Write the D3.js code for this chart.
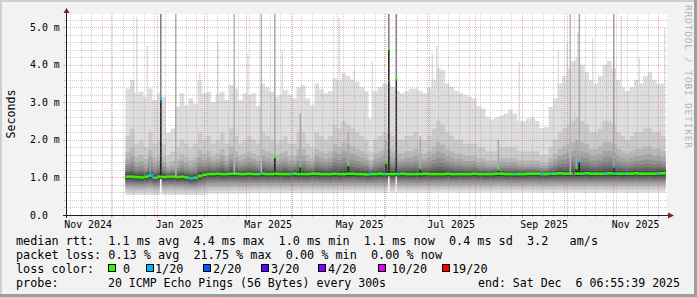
<!DOCTYPE html>
<html>
<head>
<meta charset="utf-8">
<script src="https://cdn.jsdelivr.net/npm/d3@7"></script>
<style>
  html, body { margin: 0; padding: 0; background: #f2f2f2; }
  svg { display: block; }
  text { font-family: "DejaVu Sans Mono", monospace; }
</style>
</head>
<body>
<div id="chart"></div>
<script>
// ---- data ----
const rangeStart = new Date(Date.UTC(2024, 10, 1, 6, 55, 39));
const rangeEnd = new Date(Date.UTC(2025, 11, 6, 6, 55, 39));
const firstBin = new Date(Date.UTC(2024, 11, 11));
const binDays = 3;

// max ping per 3-day bin (ms)
const maxRtt = [
  3.37, 3.59, 3.24, 3.28, 3.15, 3.37, 3.06, 3.24, 3.15, 2.18, 2.3, 2.88, 3.24, 2.92, 3.1, 2.97, 3.59, 3.24, 3.28, 3.0,
  3.24, 3.28, 3.06, 3.46, 3.37, 3.06, 3.24, 3.2, 3.24, 2.9, 3.5, 3.4, 3.28, 3.15, 3.2, 3.33, 3.2, 3.1, 3.4, 3.46,
  3.1, 2.92, 3.5, 3.35, 3.24, 3.3, 3.64, 3.6, 3.77, 3.7, 3.6, 3.55, 3.4, 3.3, 2.57, 3.3, 3.41, 3.5, 3.5, 3.41,
  3.3, 3.24, 3.3, 3.37, 3.37, 3.3, 3.24, 3.4, 3.6, 3.9, 3.85, 3.5, 3.41, 3.3, 3.24, 3.2, 3.15, 3.1, 2.9, 2.84,
  2.6, 2.55, 2.6, 2.64, 2.7, 2.81, 2.7, 2.51, 2.5, 2.57, 2.6, 2.5, 2.31, 2.35, 2.88, 3.1, 3.5, 3.7, 3.9, 4.1,
  4.2, 4.0, 3.8, 3.6, 3.5, 3.7, 4.0, 4.1, 3.9, 3.6, 3.4, 3.3, 3.4, 3.6, 3.5, 3.7, 3.8, 3.6, 3.5, 3.5
];
// 90th percentile ping per bin (ms)
const p90Rtt = [
  2.1, 2.3, 1.9, 2.0, 1.8, 2.2, 1.9, 2.0, 1.9, 1.6, 1.7, 1.8, 2.0, 1.9, 1.8, 1.9, 2.2, 2.0, 2.1, 1.9,
  2.0, 2.2, 1.9, 2.3, 2.1, 1.9, 2.0, 2.1, 2.0, 1.9, 2.2, 2.1, 2.0, 1.9, 2.0, 2.1, 1.9, 1.9, 2.2, 2.2,
  1.9, 1.8, 2.2, 2.1, 2.0, 2.1, 2.4, 2.3, 2.5, 2.4, 2.3, 2.2, 2.1, 2.0, 1.7, 2.0, 2.1, 2.2, 2.2, 2.1,
  2.0, 2.0, 2.1, 2.1, 2.2, 2.0, 2.0, 2.1, 2.3, 2.5, 2.4, 2.2, 2.1, 2.0, 2.0, 1.9, 1.9, 1.9, 1.8, 1.8,
  1.7, 1.7, 1.7, 1.8, 1.8, 1.8, 1.8, 1.7, 1.7, 1.7, 1.7, 1.7, 1.6, 1.6, 1.8, 2.0, 2.2, 2.3, 2.4, 2.5,
  2.6, 2.5, 2.4, 2.2, 2.2, 2.3, 2.5, 2.5, 2.4, 2.2, 2.1, 2.0, 2.1, 2.2, 2.2, 2.3, 2.3, 2.2, 2.2, 2.1
];
// median ping per bin (ms)
const medianRtt = [
  1.02, 1.02, 1.01, 1.0, 1.02, 1.05, 0.99, 1.02, 1.01, 1.02, 1.02, 1.01, 1.02, 1.0, 0.98, 0.99, 1.04, 1.07, 1.09, 1.09,
  1.1, 1.09, 1.09, 1.1, 1.1, 1.09, 1.09, 1.1, 1.09, 1.09, 1.1, 1.09, 1.09, 1.1, 1.09, 1.09, 1.09, 1.1, 1.09, 1.09,
  1.09, 1.1, 1.1, 1.09, 1.09, 1.09, 1.1, 1.09, 1.09, 1.1, 1.1, 1.09, 1.09, 1.08, 1.09, 1.09, 1.1, 1.09, 1.09, 1.09,
  1.09, 1.1, 1.09, 1.09, 1.09, 1.09, 1.1, 1.09, 1.09, 1.09, 1.09, 1.1, 1.09, 1.09, 1.09, 1.09, 1.09, 1.1, 1.09, 1.09,
  1.09, 1.09, 1.1, 1.1, 1.09, 1.09, 1.09, 1.09, 1.09, 1.1, 1.1, 1.1, 1.09, 1.09, 1.1, 1.1, 1.11, 1.1, 1.1, 1.1,
  1.1, 1.1, 1.11, 1.1, 1.1, 1.1, 1.1, 1.11, 1.1, 1.1, 1.1, 1.1, 1.1, 1.11, 1.1, 1.1, 1.1, 1.1, 1.11, 1.11
];
// min ping per month (ms)
const minMonths = ['2024-12', '2025-01', '2025-02', '2025-03', '2025-04', '2025-05', '2025-06',
  '2025-07', '2025-08', '2025-09', '2025-10', '2025-11', '2025-12'];
const minRtt = [0.53, 0.53, 0.57, 0.58, 0.58, 0.59, 0.59, 0.6, 0.6, 0.6, 0.6, 0.6, 0.6];

// single days with a very high max ping
const peakDates = ['2024-12-18', '2024-12-25', '2025-01-29', '2025-02-10', '2025-03-02', '2025-03-25',
  '2025-05-02', '2025-05-12', '2025-05-24', '2025-07-03', '2025-07-06', '2025-08-30', '2025-09-25',
  '2025-10-01', '2025-10-08', '2025-10-18', '2025-11-06', '2025-11-18', '2025-12-05'];
const peakValues = [5.27, 4.5, 3.8, 4.6, 4.3, 4.4, 5.24, 3.86, 4.1, 4.3, 4.5, 4.07, 4.4, 4.6, 4.87, 4.7, 5.3, 4.2, 4.97];

// days with a raised median or a wide spread
const specialDates = ['2024-12-27', '2025-01-03', '2025-01-13', '2025-02-21', '2025-03-11', '2025-03-20',
  '2025-04-06', '2025-05-08', '2025-06-02', '2025-06-04', '2025-06-09', '2025-06-25', '2025-08-16',
  '2025-10-03', '2025-10-07', '2025-10-09', '2025-11-01'];
const specialMedian = [1.12, 3.08, null, null, null, 1.55, 1.3, 1.33, 1.4, 4.43, 3.63, 1.25, 1.22, null, 1.25, 1.42, 1.28];
const specialSpread = [1.6, 5.4, 5.4, 5.4, 5.4, 5.4, 2.7, 2.2, 2.0, 5.4, 5.4, 2.1, 2.0, 5.4, 2.0, 5.4, 5.4];
const specialLoss = [1, 1, 0, 0, 0, 0, 0, 0, 0, 0, 0, 0, 0, 0, 0, 1, 1];

// days with packet loss (pings lost of 20)
const lossDates = ['2024-12-27', '2024-12-28', '2024-12-29', '2025-01-22', '2025-01-23', '2025-01-24',
  '2025-01-25', '2025-03-11', '2025-03-31', '2025-05-22', '2025-06-01', '2025-06-11', '2025-08-27',
  '2025-09-14', '2025-09-20', '2025-10-05', '2025-10-12', '2025-10-26', '2025-11-02', '2025-11-08', '2025-11-30'];
const lossCounts = [1, 1, 1, 1, 1, 1, 1, 1, 1, 1, 1, 1, 1, 1, 1, 10, 1, 1, 1, 1, 1];

const lossLevels = [0, 1, 2, 3, 4, 10, 19];
const lossLabels = ['0', '1/20', '2/20', '3/20', '4/20', '10/20', '19/20'];
const lossColors = ['#26ff00', '#00b8ff', '#0059ff', '#5e00ff', '#7e00ff', '#dd00ff', '#ff0000'];

const yTicks = [0, 1, 2, 3, 4, 5];
const yTickLabels = ['0.0', '1.0 m', '2.0 m', '3.0 m', '4.0 m', '5.0 m'];

const statLines = [
  'median rtt:  1.1 ms avg  4.4 ms max  1.0 ms min  1.1 ms now  0.4 ms sd  3.2   am/s',
  'packet loss: 0.13 % avg  21.75 % max  0.00 % min  0.00 % now'
];
const probeText = '20 ICMP Echo Pings (56 Bytes) every 300s';
const endText = 'end: Sat Dec  6 06:55:39 2025';

// ---- layout ----
const W = 697, H = 297;
const plot = { left: 66, right: 666, top: 14, bottom: 215 };
const legendX = [108.5, 146, 203.5, 261, 318.5, 378, 442.5];
const legendTextX = [123, 155, 213, 271, 328, 391.5, 452];

const parse = d3.utcParse('%Y-%m-%d');
const monthKey = d3.utcFormat('%Y-%m');

const svg = d3.select('#chart').append('svg')
  .attr('width', W)
  .attr('height', H);

const x = d3.scaleUtc().domain([rangeStart, rangeEnd]).range([plot.left, plot.right]);
const y = d3.scaleLinear().domain([0, 5.35]).range([plot.bottom, plot.top]);
const dayW = x(d3.utcDay.offset(rangeStart, 1)) - x(rangeStart);

// background and 3d border
svg.append('rect').attr('width', W).attr('height', H).attr('fill', '#f2f2f2');
svg.append('rect').attr('width', W).attr('height', 2).attr('fill', '#cfcfcf');
svg.append('rect').attr('width', 2).attr('height', H).attr('fill', '#cfcfcf');
svg.append('rect').attr('y', H - 3).attr('width', W).attr('height', 3).attr('fill', '#9e9e9e');
svg.append('rect').attr('x', W - 3).attr('width', 3).attr('height', H).attr('fill', '#9e9e9e');

svg.append('rect')
  .attr('x', plot.left).attr('y', plot.top)
  .attr('width', plot.right - plot.left + 1)
  .attr('height', plot.bottom - plot.top)
  .attr('fill', '#ffffff');

svg.append('clipPath').attr('id', 'plotclip')
  .append('rect')
  .attr('x', plot.left).attr('y', plot.top)
  .attr('width', plot.right - plot.left + 1)
  .attr('height', plot.bottom - plot.top);

const $plot = svg.append('g').attr('clip-path', 'url(#plotclip)');

// bins
const bins = medianRtt.map((m, i) => {
  const date = d3.utcDay.offset(firstBin, i * binDays);
  return {
    date: date,
    max: maxRtt[i],
    p90: p90Rtt[i],
    median: m,
    min: minRtt[minMonths.indexOf(monthKey(date))]
  };
});
const lastBin = bins[bins.length - 1];
const steps = bins.concat([Object.assign({}, lastBin, { date: d3.utcDay.offset(lastBin.date, binDays) })]);
function binAt(date) {
  const i = Math.max(0, Math.min(bins.length - 1, Math.floor(d3.utcDay.count(firstBin, date) / binDays)));
  return bins[i];
}

// smoke: 10 bands, outermost lightest
const upperFrac = [null, null, 0.6, 0.43, 0.31, 0.22, 0.15, 0.1, 0.06, 0.03];
const lowerFrac = [0, 0.15, 0.3, 0.42, 0.53, 0.63, 0.72, 0.8, 0.87, 0.93];
function bandTop(d, k) {
  if (k === 0) return d.max;
  if (k === 1) return d.p90;
  return d.median + (d.p90 - d.median) * upperFrac[k];
}
function bandBottom(d, k) {
  return d.min + (d.median - d.min) * lowerFrac[k];
}
function shade(k) {
  const v = 221 - 19 * k;
  return d3.rgb(v, v, v).formatHex();
}

function drawBand(k) {
  const area = d3.area()
    .curve(d3.curveStepAfter)
    .x(d => x(d.date))
    .y0(d => y(bandBottom(d, k)))
    .y1(d => y(bandTop(d, k)));
  $plot.append('path')
    .datum(steps)
    .attr('d', area)
    .attr('fill', shade(k));
}

drawBand(0);

// single-day max peaks
$plot.selectAll('rect.peak')
  .data(peakDates)
  .enter()
  .append('rect')
  .classed('peak', true)
  .attr('x', d => x(parse(d)))
  .attr('width', dayW)
  .attr('y', (d, i) => y(peakValues[i]))
  .attr('height', (d, i) => y(binAt(parse(d)).p90) - y(peakValues[i]))
  .attr('fill', shade(0));

for (let k = 1; k < 10; k++) drawBand(k);

// special days: wide spread columns and raised medians
specialDates.forEach((s, i) => {
  const day = parse(s);
  const b = binAt(day);
  const med = specialMedian[i];
  const high = med !== null && med > 2;
  if (high) {
    $plot.append('rect')
      .attr('x', x(day)).attr('width', dayW)
      .attr('y', y(b.median) + 2)
      .attr('height', y(b.min) - y(b.median) - 1)
      .attr('fill', '#ffffff');
  }
  $plot.append('rect')
    .attr('x', x(day)).attr('width', dayW)
    .attr('y', y(specialSpread[i]))
    .attr('height', y(med !== null ? med : b.median) - y(specialSpread[i]))
    .attr('fill', high ? '#7a7a7a' : (med !== null ? '#a8a8a8' : '#b4b4b4'));
  if (med !== null) {
    $plot.append('rect')
      .attr('x', x(day)).attr('width', dayW)
      .attr('y', y(med))
      .attr('height', y(b.median - 0.06) - y(med))
      .attr('fill', '#1c1c1c');
  }
});

// median blocks
const medH = 2.6;
$plot.selectAll('rect.median')
  .data(bins)
  .enter()
  .append('rect')
  .classed('median', true)
  .attr('x', d => x(d.date))
  .attr('width', d => x(d3.utcDay.offset(d.date, binDays)) - x(d.date) + 0.3)
  .attr('y', d => y(d.median) - medH / 2)
  .attr('height', medH)
  .attr('fill', lossColors[0]);

function lossColor(n) {
  let c = lossColors[0];
  lossLevels.forEach((l, i) => { if (n >= l) c = lossColors[i]; });
  return c;
}

// coloured median for lossy days
$plot.selectAll('rect.loss')
  .data(lossDates)
  .enter()
  .append('rect')
  .classed('loss', true)
  .attr('x', d => x(parse(d)))
  .attr('width', dayW + 0.3)
  .attr('y', d => y(binAt(parse(d)).median) - medH / 2)
  .attr('height', medH)
  .attr('fill', (d, i) => lossColor(lossCounts[i]));

// tips of raised medians
specialDates.forEach((s, i) => {
  if (specialMedian[i] === null) return;
  $plot.append('rect')
    .attr('x', x(parse(s))).attr('width', dayW + 0.3)
    .attr('y', y(specialMedian[i]) - medH / 2)
    .attr('height', medH)
    .attr('fill', lossColor(specialLoss[i]));
});

// ---- grid (drawn over the smoke) ----
const minorColor = 'rgba(143,143,143,0.42)';
const majorColor = 'rgba(222,79,79,0.45)';
const $grid = svg.append('g')
  .attr('shape-rendering', 'crispEdges')
  .attr('stroke-dasharray', '1,1')
  .attr('stroke-width', 1)
  .attr('fill', 'none');

const minorVals = d3.range(1, 27).map(i => i / 5).filter(v => Math.abs(v - Math.round(v)) > 1e-6);
const months = d3.utcMonth.range(d3.utcMonth.ceil(rangeStart), rangeEnd);
const weeks = d3.utcMonday.range(d3.utcMonday.ceil(rangeStart), rangeEnd)
  .filter(d => d.getUTCDate() !== 1);

minorVals.forEach(v => {
  const yy = Math.round(y(v)) + 0.5;
  $grid.append('line').attr('x1', plot.left).attr('x2', plot.right + 1)
    .attr('y1', yy).attr('y2', yy).attr('stroke', minorColor);
  svg.append('line').attr('x1', plot.left - 2).attr('x2', plot.left)
    .attr('y1', yy).attr('y2', yy).attr('stroke', minorColor).attr('shape-rendering', 'crispEdges');
});
weeks.forEach(d => {
  const xx = Math.round(x(d)) + 0.5;
  $grid.append('line').attr('x1', xx).attr('x2', xx)
    .attr('y1', plot.top).attr('y2', plot.bottom).attr('stroke', minorColor);
  svg.append('line').attr('x1', xx).attr('x2', xx)
    .attr('y1', plot.bottom).attr('y2', plot.bottom + 2).attr('stroke', minorColor).attr('shape-rendering', 'crispEdges');
});
yTicks.slice(1).forEach(v => {
  const yy = Math.round(y(v)) + 0.5;
  $grid.append('line').attr('x1', plot.left).attr('x2', plot.right + 1)
    .attr('y1', yy).attr('y2', yy).attr('stroke', majorColor);
  svg.append('line').attr('x1', plot.left - 3).attr('x2', plot.left)
    .attr('y1', yy).attr('y2', yy).attr('stroke', majorColor).attr('shape-rendering', 'crispEdges');
});
months.forEach(d => {
  const xx = Math.round(x(d)) + 0.5;
  $grid.append('line').attr('x1', xx).attr('x2', xx)
    .attr('y1', plot.top).attr('y2', plot.bottom).attr('stroke', majorColor);
  svg.append('line').attr('x1', xx).attr('x2', xx)
    .attr('y1', plot.bottom).attr('y2', plot.bottom + 3).attr('stroke', majorColor).attr('shape-rendering', 'crispEdges');
});

// ---- axes ----
svg.append('line')
  .attr('x1', plot.left + 0.5).attr('x2', plot.left + 0.5)
  .attr('y1', plot.bottom + 3).attr('y2', plot.top - 2)
  .attr('stroke', '#1f1f1f').attr('shape-rendering', 'crispEdges');
svg.append('line')
  .attr('x1', plot.left - 3).attr('x2', plot.right + 2)
  .attr('y1', plot.bottom + 0.5).attr('y2', plot.bottom + 0.5)
  .attr('stroke', '#1f1f1f').attr('shape-rendering', 'crispEdges');
svg.append('polygon')
  .attr('points', [[plot.left - 2.5, plot.top - 1], [plot.left + 0.5, plot.top - 6], [plot.left + 3.5, plot.top - 1]].join(' '))
  .attr('fill', '#801f1f');
svg.append('polygon')
  .attr('points', [[plot.right + 2, plot.bottom - 2.5], [plot.right + 8, plot.bottom + 0.5], [plot.right + 2, plot.bottom + 3.5]].join(' '))
  .attr('fill', '#801f1f');

// y tick labels
svg.selectAll('text.ytick')
  .data(yTicks)
  .enter()
  .append('text')
  .classed('ytick', true)
  .attr('x', 30)
  .attr('y', d => y(d) + 3.5)
  .attr('font-size', '9.9px')
  .attr('fill', '#000')
  .text((d, i) => yTickLabels[i]);

// x tick labels, centred half a month after the month start
const labelMonths = d3.utcMonth.every(2).range(d3.utcMonth.floor(rangeStart), rangeEnd);
const fmt = d3.utcFormat('%b %Y');
svg.selectAll('text.xtick')
  .data(labelMonths)
  .enter()
  .append('text')
  .classed('xtick', true)
  .attr('x', d => x(d3.utcDay.offset(d, 15)))
  .attr('y', 228.3)
  .attr('text-anchor', 'middle')
  .attr('font-size', '9.9px')
  .attr('fill', '#000')
  .text(d => fmt(d));

// axis title and watermark
svg.append('text')
  .attr('transform', 'translate(14.5,114) rotate(-90)')
  .attr('text-anchor', 'middle')
  .attr('font-size', '11.6px')
  .attr('fill', '#000')
  .text('Seconds');

svg.append('text')
  .attr('transform', 'translate(685,5) rotate(90)')
  .attr('font-size', '9.5px')
  .attr('fill', '#b0b0b0')
  .attr('textLength', 143)
  .attr('lengthAdjust', 'spacing')
  .text('RRDTOOL / TOBI OETIKER');

// ---- legend ----
function legendText(str, px, py, width) {
  const t = svg.append('text')
    .attr('x', px).attr('y', py)
    .attr('font-size', '11.8px')
    .attr('fill', '#000')
    .attr('xml:space', 'preserve')
    .style('white-space', 'pre')
    .text(str);
  if (width) t.attr('textLength', width).attr('lengthAdjust', 'spacingAndGlyphs');
  return t;
}

legendText(statLines[0], 16, 244.5, 582);
legendText(statLines[1], 16, 258.5, 426);
legendText('loss color:', 16, 272.5, 78);

lossLevels.forEach((l, i) => {
  svg.append('rect')
    .attr('x', legendX[i]).attr('y', 264.5)
    .attr('width', 7).attr('height', 7)
    .attr('fill', lossColors[i])
    .attr('stroke', '#000').attr('stroke-width', 1)
    .attr('shape-rendering', 'crispEdges');
  legendText(lossLabels[i], legendTextX[i], 272.5, lossLabels[i].length * 7.1);
});

legendText('probe:', 16, 286.5, 42.6);
legendText(probeText, 108, 286.5, 278);
legendText(endText, 478, 286.5, 202);
</script>
</body>
</html>
